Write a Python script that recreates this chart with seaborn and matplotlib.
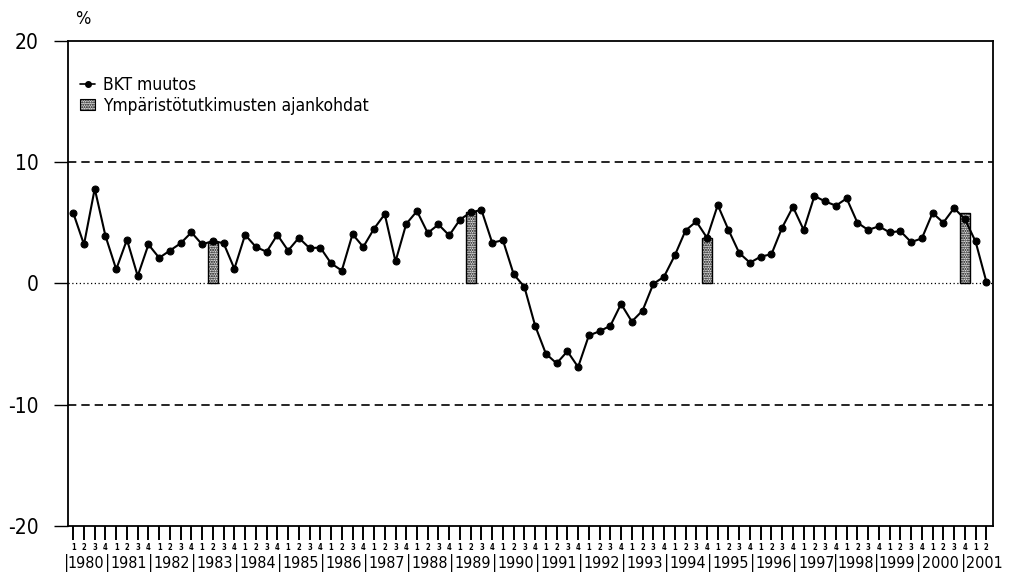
import matplotlib
matplotlib.use('Agg')
import matplotlib.pyplot as plt
import matplotlib.patches as mpatches
import matplotlib.lines as mlines
import matplotlib.transforms as mtransforms
from matplotlib import font_manager
import numpy as np
import pandas as pd
import seaborn as sns

# Quarterly GDP change, 1980 Q1 - 2001 Q2 (%)
years = list(range(1980, 2002))
gdp_change = [
    5.8, 3.2, 7.8, 3.9, 1.15, 3.6, 0.6, 3.2, 2.1, 2.7,
    3.3, 4.2, 3.2, 3.5, 3.3, 1.2, 4.0, 3.0, 2.6, 4.0,
    2.7, 3.75, 2.9, 2.95, 1.65, 1.05, 4.05, 3.0, 4.5, 5.7,
    1.8, 4.9, 5.95, 4.15, 4.85, 3.95, 5.25, 5.85, 6.05, 3.35,
    3.55, 0.75, -0.3, -3.5, -5.8, -6.6, -5.6, -6.9, -4.3, -3.95,
    -3.5, -1.7, -3.15, -2.25, -0.05, 0.55, 2.3, 4.35, 5.1, 3.75,
    6.45, 4.4, 2.5, 1.7, 2.2, 2.4, 4.6, 6.3, 4.4, 7.2,
    6.75, 6.4, 7.0, 5.0, 4.4, 4.7, 4.2, 4.3, 3.4, 3.7,
    5.8, 5.0, 6.2, 5.3, 3.45, 0.15,
]

# Environmental survey dates (year, quarter) and bar heights
survey_year = [1983, 1989, 1994, 2000]
survey_quarter = [2, 2, 4, 4]
survey_value = [3.3, 5.9, 3.7, 5.8]

y_ticks = [-20, -10, 0, 10, 20]

quarters = [q for y in years for q in (1, 2, 3, 4)][:len(gdp_change)]
df = pd.DataFrame({'idx': np.arange(len(gdp_change)), 'quarter': quarters,
                   'gdp': gdp_change})
survey_idx = [(y - years[0]) * 4 + q - 1 for y, q in zip(survey_year, survey_quarter)]

sns.set_style('ticks')
plt.rcParams['font.family'] = ['DejaVu Sans']
for key in ['text.color', 'axes.labelcolor', 'xtick.color', 'ytick.color']:
    plt.rcParams[key] = 'black'

# a narrow face looks closer to the printed original
cond_path = font_manager.findfont(font_manager.FontProperties(family='DejaVu Sans',
                                                              stretch='condensed'))
if 'Condensed' in cond_path:
    plt.rcParams['font.stretch'] = 'condensed'
    narrow = True
else:
    plt.rcParams['font.family'] = ['Liberation Sans', 'DejaVu Sans']
    narrow = False

fig = plt.figure(figsize=(10.13, 5.81), dpi=100)
ax = fig.add_axes([0.0668, 0.0947, 0.9132, 0.8353])

# survey bars
ax.bar(survey_idx, survey_value, width=0.9, facecolor='#e0e0e0', edgecolor='black',
       hatch='.......', linewidth=1.0, zorder=2)

sns.lineplot(data=df, x='idx', y='gdp', ax=ax, color='black', linewidth=1.5,
             marker='o', markersize=5, markeredgecolor='black', zorder=3)

# reference lines
ax.axhline(10, color='black', lw=1.2, ls=(0, (5, 3)), zorder=1)
ax.axhline(-10, color='black', lw=1.2, ls=(0, (5, 3)), zorder=1)
ax.axhline(0, color='black', lw=0.9, ls=(0, (1, 2)), zorder=1)

ax.set_xlim(-0.52, 85.6)
ax.set_ylim(-20, 20)
ax.set_yticks(y_ticks)
ax.set_yticklabels([str(v) for v in y_ticks], fontsize=15)
ax.tick_params(axis='y', direction='out', length=10, width=1, pad=11)

ax.set_xticks(df['idx'])
ax.set_xticklabels(df['quarter'], fontsize=5.5, fontweight='bold')
ax.tick_params(axis='x', direction='out', length=10, width=1.4, pad=2)
ax.set_xlabel('')
ax.set_ylabel('')

for s in ax.spines.values():
    s.set_visible(True)
    s.set_color('black')
    s.set_linewidth(1.3)

# year labels with separators below the quarter numbers
# (the printed original squeezes the last few years slightly to the left)
year_fs = 11.5 if narrow else 10
centres = [4 * k + 1.2 for k in range(len(years))]
centres[-4:] = [72.8, 76.7, 80.75, 84.8]
seps = [centres[0] - 1.8] + [(a + b) / 2 for a, b in zip(centres[:-1], centres[1:])]
seps[-1] = 82.9
trans = mtransforms.blended_transform_factory(ax.transData, ax.transAxes)
for yr, c, s in zip(years, centres, seps):
    ax.text(c, -0.077, str(yr), transform=trans, ha='center', va='center',
            fontsize=year_fs, clip_on=False)
    ax.text(s, -0.077, '|', transform=trans, ha='center',
            va='center', fontsize=year_fs + 1, clip_on=False)

ax.text(0.016, 1.045, '%', transform=ax.transAxes, fontsize=13, ha='center', va='center')

line_h = mlines.Line2D([], [], color='black', marker='o', markersize=4, lw=1.2)
bar_h = mpatches.Patch(facecolor='#e0e0e0', edgecolor='black', hatch='.......', lw=0.8)
ax.legend([line_h, bar_h], ['BKT muutos', 'Ympäristötutkimusten ajankohdat'],
          loc='upper left', bbox_to_anchor=(0.0, 0.952), frameon=False, fontsize=12.5,
          handlelength=0.9, handleheight=0.6, handletextpad=0.45, labelspacing=0.15,
          borderaxespad=0.3)

fig.savefig('out.png', dpi=100)
